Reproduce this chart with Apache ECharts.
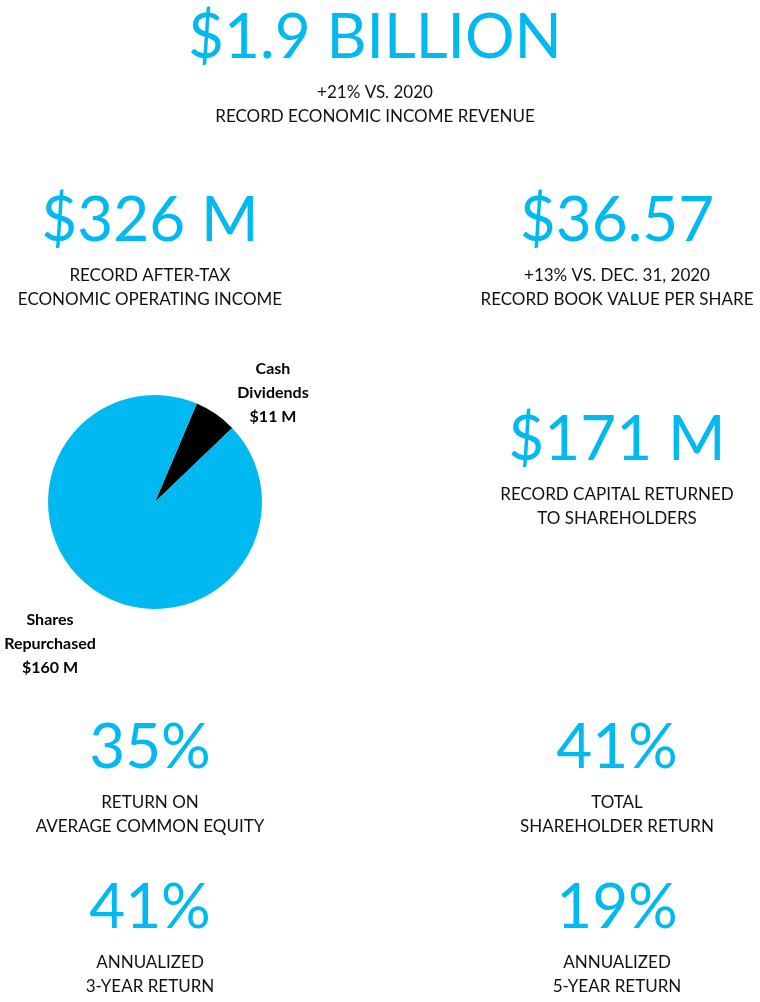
<!DOCTYPE html>
<html><head><meta charset="utf-8">
<script src="https://cdn.jsdelivr.net/npm/echarts@6/dist/echarts.min.js"></script>
<style>html,body{margin:0;padding:0;background:#fff}#c{width:760px;height:1002px}</style>
</head><body><div id="c"></div>
<script>
const pieNames = ['Cash\nDividends', 'Shares\nRepurchased'];
const pieValues = [11, 160];
const pieLabelValues = ['$11 M', '$160 M'];

const statValues = ['$1.9 BILLION', '$326 M', '$36.57', '$171 M', '35%', '41%', '41%', '19%'];
const statCaptions = [
  ['+21% VS. 2020', 'RECORD ECONOMIC INCOME REVENUE'],
  ['RECORD AFTER-TAX', 'ECONOMIC OPERATING INCOME'],
  ['+13% VS. DEC. 31, 2020', 'RECORD BOOK VALUE PER SHARE'],
  ['RECORD CAPITAL RETURNED', 'TO SHAREHOLDERS'],
  ['RETURN ON', 'AVERAGE COMMON EQUITY'],
  ['TOTAL', 'SHAREHOLDER RETURN'],
  ['ANNUALIZED', '3-YEAR RETURN'],
  ['ANNUALIZED', '5-YEAR RETURN']
];

const CYAN = '#00B9F1';
const FONT = 'Lato, "Open Sans", sans-serif';
// layout positions (centre x, value middle y)
const pos = [[375, 38], [150, 221], [617, 221], [617, 440], [150, 748], [617, 748], [150, 908], [617, 908]];

const graphics = [];
statValues.forEach((v, i) => {
  const [x, y] = pos[i];
  graphics.push({type: 'text', style: {
    text: v, x: x, y: y, fill: CYAN, font: '400 62px ' + FONT, align: 'center', verticalAlign: 'middle'}});
  statCaptions[i].forEach((t, j) => {
    graphics.push({type: 'text', style: {
      text: t, x: x, y: y + 55 + j * 24, fill: '#111', font: '400 17px ' + FONT, align: 'center', verticalAlign: 'middle'}});
  });
});

const chart = echarts.init(document.getElementById('c'), null, {renderer: 'canvas'});
chart.setOption({
  animation: false,
  backgroundColor: '#fff',
  graphic: graphics,
  series: [{
    type: 'pie',
    center: [155, 502],
    radius: 107,
    startAngle: 67,
    clockwise: true,
    data: pieNames.map((n, i) => ({name: n, value: pieValues[i]})),
    color: ['#000000', CYAN],
    itemStyle: {borderWidth: 0},
    labelLine: {show: false},
    label: {
      show: true,
      position: 'inside',
      overflow: 'none',
      formatter: p => p.name + '\n' + pieLabelValues[p.dataIndex],
      fontFamily: FONT, fontWeight: 'bold', fontSize: 16, lineHeight: 24, color: '#000', align: 'center'
    },
    labelLayout: p => p.dataIndex === 0
      ? {x: 273, y: 393, align: 'center', verticalAlign: 'middle'}
      : {x: 50, y: 644, align: 'center', verticalAlign: 'middle'}
  }]
});
</script></body></html>
